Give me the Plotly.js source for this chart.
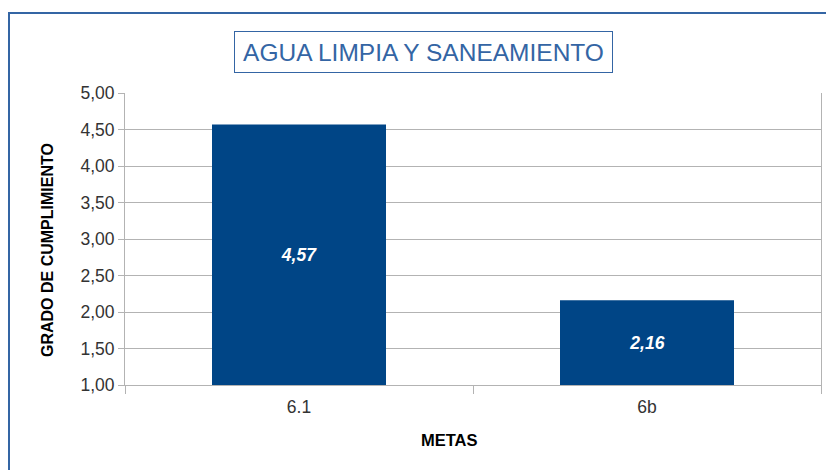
<!DOCTYPE html>
<html>
<head>
<meta charset="utf-8">
<script src="https://cdn.plot.ly/plotly-3.0.1.min.js"></script>
<style>
html,body{margin:0;padding:0;background:#fff;}
#wrap{position:relative;width:826px;height:470px;overflow:hidden;}
#frame{position:absolute;left:8px;top:12px;width:830px;height:470px;border-top:2px solid #3465a4;border-left:2px solid #3465a4;box-sizing:border-box;pointer-events:none;}
#chart{position:absolute;left:0;top:0;width:826px;height:470px;}
</style>
</head>
<body>
<div id="wrap">
<div id="chart"></div>
<div id="frame"></div>
</div>
<script>
var categories = ["6.1", "6b"];
var values = [4.57, 2.16];
var valueLabels = ["4,57", "2,16"];
var yTickValues = [1, 1.5, 2, 2.5, 3, 3.5, 4, 4.5, 5];

var trace = {
  type: "bar",
  x: categories,
  y: values.map(function(v){ return v - 1; }),
  base: 1,
  text: valueLabels,
  textposition: "inside",
  insidetextanchor: "middle",
  textangle: 0,
  textfont: {family: "Liberation Sans, Arial, sans-serif", size: 17.5, color: "#ffffff", weight: "bold", style: "italic"},
  marker: {color: "#004586", line: {width: 0}},
  width: 0.5,
  hoverinfo: "none"
};

var layout = {
  width: 826,
  height: 470,
  margin: {l: 125, r: 5, t: 93, b: 85},
  paper_bgcolor: "#ffffff",
  plot_bgcolor: "#ffffff",
  separators: ",.",
  showlegend: false,
  font: {family: "Liberation Sans, Arial, sans-serif", color: "#333333"},
  xaxis: {
    type: "category",
    tickson: "boundaries",
    ticks: "outside",
    ticklen: 8,
    tickcolor: "#b3b3b3",
    tickfont: {size: 17.5, color: "#333333"},
    ticklabelstandoff: 6,
    showgrid: false,
    showline: true,
    linecolor: "#b3b3b3",
    linewidth: 1,
    zeroline: false,
    range: [-0.5, 1.5]
  },
  yaxis: {
    range: [1, 5],
    tickvals: yTickValues,
    tickformat: ".2f",
    ticks: "outside",
    ticklen: 6,
    tickcolor: "#b3b3b3",
    tickfont: {size: 17.5, color: "#333333"},
    showgrid: true,
    gridcolor: "#b3b3b3",
    gridwidth: 1,
    showline: true,
    mirror: true,
    linecolor: "#b3b3b3",
    linewidth: 1,
    zeroline: false,
    automargin: false
  },
  annotations: [
    {
      text: "AGUA LIMPIA Y SANEAMIENTO",
      xref: "paper", yref: "paper",
      x: (423.5 - 125) / 696, y: 1 + (93 - 52) / 292,
      xanchor: "center", yanchor: "middle",
      showarrow: false,
      width: 369,
      height: 32,
      font: {family: "Liberation Sans, Arial, sans-serif", size: 24.5, color: "#3465a4"},
      bordercolor: "#3465a4",
      borderwidth: 1,
      borderpad: 4,
      bgcolor: "#ffffff"
    },
    {
      text: "METAS",
      xref: "paper", yref: "paper",
      x: (449 - 125) / 696, y: -(440 - 385) / 292,
      xanchor: "center", yanchor: "middle",
      showarrow: false,
      font: {family: "Liberation Sans, Arial, sans-serif", size: 16.5, color: "#000000", weight: "bold"}
    },
    {
      text: "GRADO DE CUMPLIMIENTO",
      xref: "paper", yref: "paper",
      x: -(125 - 47) / 696, y: (385 - 250) / 292,
      xanchor: "center", yanchor: "middle",
      textangle: -90,
      showarrow: false,
      font: {family: "Liberation Sans, Arial, sans-serif", size: 16, color: "#000000", weight: "bold"}
    }
  ]
};

Plotly.newPlot("chart", [trace], layout, {displayModeBar: false, staticPlot: true});
</script>
</body>
</html>
